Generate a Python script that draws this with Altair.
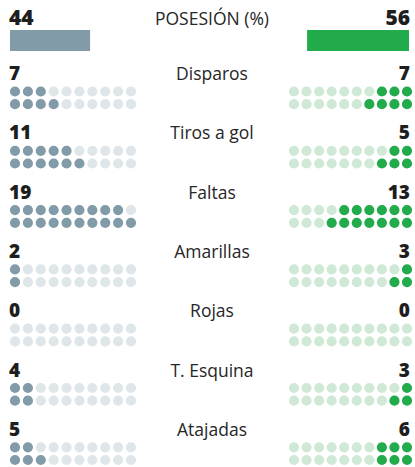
import altair as alt
import pandas as pd

# ---- data ----
stats = ["Disparos", "Tiros a gol", "Faltas", "Amarillas", "Rojas", "T. Esquina", "Atajadas"]
home = [7, 11, 19, 2, 0, 4, 5]
away = [7, 5, 13, 3, 0, 3, 6]
poss_label = "POSESIÓN (%)"
poss_home = 44
poss_away = 56

# ---- layout ----
W, H = 415, 467
COLS = 10
ROW0 = 91.5
ROWSTEP = 59.3
SUB = 12.7
FONT = "Open Sans"

dots = []
texts = []
for k, (s, h, a) in enumerate(zip(stats, home, away)):
    top = ROW0 + k * ROWSTEP
    for c in range(COLS):
        for r in range(2):  # r=0 bottom row, r=1 top row
            idx = c * 2 + r
            y = top + (SUB if r == 0 else 0)
            dots.append(dict(side="L", col=c, y=y, key="L1" if idx < h else "L0"))
            dots.append(dict(side="R", col=c, y=y, key="R1" if idx < a else "R0"))
    texts.append(dict(label=s, h=str(h), a=str(a), ty=top - 11.5))

dots = pd.DataFrame(dots)
texts = pd.DataFrame(texts)
poss = pd.DataFrame([dict(label=poss_label, h=poss_home, a=poss_away,
                          hs=str(poss_home), as_=str(poss_away),
                          start=0, ty=25, y1=30, y2=51)])

yscale = alt.Scale(domain=[0, H], range=[0, H])
cdom = ["L1", "L0", "R1", "R0"]
crng = ["#819ba8", "#dfe6ea", "#22ab4b", "#d0e9d6"]

left_dots = alt.Chart(dots[dots.side == "L"]).mark_circle(size=104, opacity=1).encode(
    x=alt.X("col:Q", scale=alt.Scale(domain=[0, 9], range=[15, 131]), axis=None),
    y=alt.Y("y:Q", scale=yscale, axis=None),
    color=alt.Color("key:N", scale=alt.Scale(domain=cdom, range=crng), legend=None),
)
right_dots = alt.Chart(dots[dots.side == "R"]).mark_circle(size=104, opacity=1).encode(
    x=alt.X("col:Q", scale=alt.Scale(domain=[0, 9], range=[407, 294]), axis=None),
    y=alt.Y("y:Q", scale=yscale, axis=None),
    color=alt.Color("key:N", scale=alt.Scale(domain=cdom, range=crng), legend=None),
)

LAB_SIZE = 17.5
base_t = alt.Chart(texts)
lab = base_t.mark_text(font=FONT, fontSize=LAB_SIZE, color="#262626", align="center",
                       baseline="alphabetic").encode(
    x=alt.value(212), y=alt.Y("ty:Q", scale=yscale, axis=None), text="label:N")
hnum = base_t.mark_text(font=FONT, fontSize=19, fontWeight=800, color="#1e1e1e",
                        align="left", baseline="alphabetic").encode(
    x=alt.value(9), y=alt.Y("ty:Q", scale=yscale, axis=None), text="h:N")
anum = base_t.mark_text(font=FONT, fontSize=19, fontWeight=800, color="#1e1e1e",
                        align="right", baseline="alphabetic").encode(
    x=alt.value(410), y=alt.Y("ty:Q", scale=yscale, axis=None), text="a:N")

base_p = alt.Chart(poss)
plab = base_p.mark_text(font=FONT, fontSize=LAB_SIZE, color="#262626", align="center",
                        baseline="alphabetic").encode(
    x=alt.value(212), y=alt.Y("ty:Q", scale=yscale, axis=None), text="label:N")
phnum = base_p.mark_text(font=FONT, fontSize=21, fontWeight=800, color="#1e1e1e",
                         align="left", baseline="alphabetic").encode(
    x=alt.value(9), y=alt.Y("ty:Q", scale=yscale, axis=None), text="hs:N")
panum = base_p.mark_text(font=FONT, fontSize=21, fontWeight=800, color="#1e1e1e",
                         align="right", baseline="alphabetic").encode(
    x=alt.value(410), y=alt.Y("ty:Q", scale=yscale, axis=None), text="as_:N")
pbar_h = base_p.mark_rect(color="#819ba8").encode(
    x=alt.X("start:Q", scale=alt.Scale(domain=[0, 100], range=[10, 192]), axis=None),
    x2="h:Q",
    y=alt.Y("y1:Q", scale=yscale, axis=None), y2="y2:Q")
pbar_a = base_p.mark_rect(color="#22ab4b").encode(
    x=alt.X("start:Q", scale=alt.Scale(domain=[0, 100], range=[409, 227]), axis=None),
    x2="a:Q",
    y=alt.Y("y1:Q", scale=yscale, axis=None), y2="y2:Q")

chart = alt.layer(
    pbar_h, pbar_a, left_dots, right_dots, lab, hnum, anum, plab, phnum, panum
).resolve_scale(x="independent").properties(
    width=W, height=H, padding=0, autosize="none", background="white"
).configure_view(stroke=None)

chart.save("out.html", embed_options={"renderer": "svg", "actions": False})
